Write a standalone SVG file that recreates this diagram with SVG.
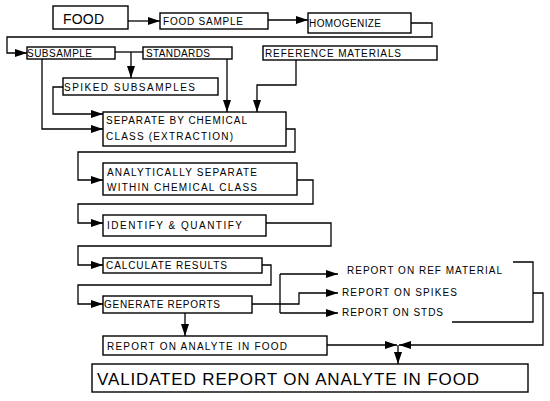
<svg xmlns="http://www.w3.org/2000/svg" width="550" height="401" viewBox="0 0 550 401">
<style>
.box{fill:#fff;stroke:#000;stroke-width:1.4}
.t{font-family:"Liberation Sans",Arial,sans-serif;font-size:10px;fill:#000}
.c{fill:none;stroke:#000;stroke-width:1.3}
</style>
<defs>
<marker id="ah" markerUnits="userSpaceOnUse" markerWidth="12" markerHeight="8" refX="12" refY="4" orient="auto">
<path d="M0,0 L12,4 L0,8 z" fill="#000"/>
</marker>
</defs>
<rect width="550" height="401" fill="#fff"/>
<g id="connectors">
<path class="c" d="M128,21 H160" marker-end="url(#ah)"/>
<path class="c" d="M268,20 H308" marker-end="url(#ah)"/>
<path class="c" d="M411,23 H432 V37 H7 V53 H27" marker-end="url(#ah)"/>
<path class="c" d="M115,52 H143"/>
<path class="c" d="M131,52 V78" marker-end="url(#ah)"/>
<path class="c" d="M227,59 V112" marker-end="url(#ah)"/>
<path class="c" d="M296,60 V85 H257 V112" marker-end="url(#ah)"/>
<path class="c" d="M63,87 H53 V114 H103" marker-end="url(#ah)"/>
<path class="c" d="M42,59 V129 H103" marker-end="url(#ah)"/>
<path class="c" d="M286,129 H295 V152 H78 V180 H103" marker-end="url(#ah)"/>
<path class="c" d="M297,180 H313 V204 H78 V223 H103" marker-end="url(#ah)"/>
<path class="c" d="M266,223 H331 V246 H78 V265 H103" marker-end="url(#ah)"/>
<path class="c" d="M262,265 H271 V285 H78 V304 H103" marker-end="url(#ah)"/>
<path class="c" d="M185,313 V336" marker-end="url(#ah)"/>
<path class="c" d="M252,304 H299 V293 H338" marker-end="url(#ah)"/>
<path class="c" d="M280,274 V313"/>
<path class="c" d="M280,274 H338" marker-end="url(#ah)"/>
<path class="c" d="M280,313 H338" marker-end="url(#ah)"/>
<path class="c" d="M513,262 H533 V322 H452"/>
<path class="c" d="M533,293 H543 V345 H399" marker-end="url(#ah)"/>
<path class="c" d="M327,345 H397" marker-end="url(#ah)"/>
<path class="c" d="M398,345 V364" marker-end="url(#ah)"/>
</g>
<g id="food"><rect class="box" x="53" y="6" width="75" height="23"/><text class="t" x="63" y="24" style="font-size:14px" textLength="41">FOOD</text></g>
<g id="food-sample"><rect class="box" x="160" y="13" width="108" height="16"/><text class="t" x="163" y="25" textLength="80">FOOD SAMPLE</text></g>
<g id="homogenize"><rect class="box" x="308" y="13" width="103" height="20"/><text class="t" x="309" y="27" textLength="72">HOMOGENIZE</text></g>
<g id="subsample"><rect class="box" x="27" y="47" width="88" height="12"/><text class="t" x="27" y="57" textLength="65">SUBSAMPLE</text></g>
<g id="standards"><rect class="box" x="143" y="47" width="89" height="12"/><text class="t" x="146" y="57" textLength="64">STANDARDS</text></g>
<g id="reference-materials"><rect class="box" x="263" y="46" width="174" height="14"/><text class="t" x="265" y="57" textLength="136">REFERENCE MATERIALS</text></g>
<g id="spiked-subsamples"><rect class="box" x="63" y="78" width="155" height="17"/><text class="t" x="64" y="91" textLength="131">SPIKED SUBSAMPLES</text></g>
<g id="separate"><rect class="box" x="103" y="112" width="183" height="34"/><text class="t" x="106" y="124" textLength="141">SEPARATE BY CHEMICAL</text><text class="t" x="106" y="140" textLength="127">CLASS (EXTRACTION)</text></g>
<g id="analytically"><rect class="box" x="103" y="163" width="194" height="32"/><text class="t" x="107" y="176" textLength="150">ANALYTICALLY SEPARATE</text><text class="t" x="107" y="191" textLength="150">WITHIN CHEMICAL CLASS</text></g>
<g id="identify"><rect class="box" x="103" y="215" width="163" height="21"/><text class="t" x="107" y="229" textLength="135">IDENTIFY &amp; QUANTIFY</text></g>
<g id="calculate"><rect class="box" x="103" y="258" width="159" height="15"/><text class="t" x="106" y="269" textLength="121">CALCULATE RESULTS</text></g>
<g id="generate"><rect class="box" x="103" y="296" width="149" height="17"/><text class="t" x="104" y="308" textLength="116">GENERATE REPORTS</text></g>
<g id="report-ref"><text class="t" x="347" y="274" textLength="155">REPORT ON REF MATERIAL</text></g>
<g id="report-spikes"><text class="t" x="342" y="296" textLength="115">REPORT ON SPIKES</text></g>
<g id="report-stds"><text class="t" x="342" y="316" textLength="101">REPORT ON STDS</text></g>
<g id="report-analyte"><rect class="box" x="103" y="336" width="224" height="19"/><text class="t" x="107" y="350" textLength="180">REPORT ON ANALYTE IN FOOD</text></g>
<g id="validated"><rect class="box" x="92" y="364" width="436" height="28"/><text class="t" x="97" y="385" style="font-size:17px" textLength="382">VALIDATED REPORT ON ANALYTE IN FOOD</text></g>
</svg>
